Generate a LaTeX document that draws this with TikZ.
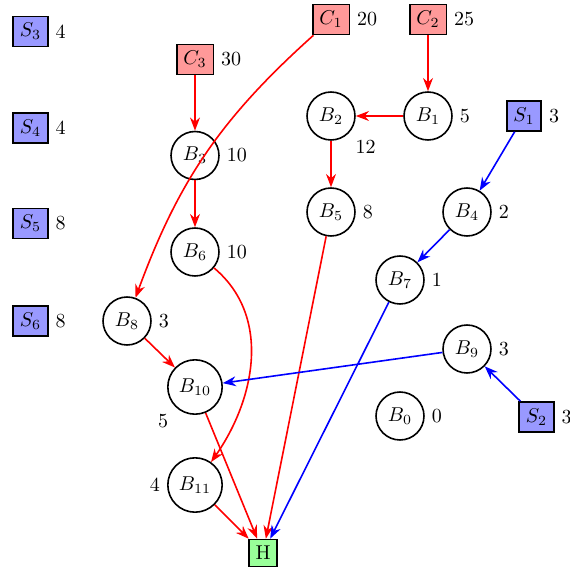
\documentclass[tikz,border=0pt]{standalone}
\usetikzlibrary{arrows.meta}
\tikzset{
  bnode/.style={circle, draw, thick},
  snode/.style={rectangle, draw, thick, fill=blue!40},
  cnode/.style={rectangle, draw, thick, fill=red!40},
  hnode/.style={rectangle, draw, thick, fill=green!40},
  redarr/.style={draw=red, thick, -{Stealth}},
  bluearr/.style={draw=blue, thick, -{Stealth}}
}
\begin{document}
\begin{tikzpicture}[x=0.5pt,y=-0.5pt]
\useasboundingbox (0,0) rectangle (569,571);
% S nodes
\node[snode, label=right:4] (S3) at (30.5,31.5) {$S_3$};
\node[snode, label=right:4] (S4) at (30.5,128) {$S_4$};
\node[snode, label=right:8] (S5) at (30.5,223.5) {$S_5$};
\node[snode, label=right:8] (S6) at (30.5,321) {$S_6$};
\node[snode, label=right:3] (S1) at (524,116) {$S_1$};
\node[snode, label=right:3] (S2) at (536.5,417) {$S_2$};
% C nodes
\node[cnode, label=right:30] (C3) at (195,59.5) {$C_3$};
\node[cnode, label=right:20] (C1) at (331,19.5) {$C_1$};
\node[cnode, label=right:25] (C2) at (428,19.5) {$C_2$};
% B nodes
\node[bnode, label=right:10] (B3) at (195,155.5) {$B_3$};
\node[bnode, label=right:10] (B6) at (195,252) {$B_6$};
\node[bnode, label=right:3] (B8) at (127,321) {$B_8$};
\node[bnode, label=below left:5] (B10) at (195,387) {$B_{10}$};
\node[bnode, label=left:4] (B11) at (195,485) {$B_{11}$};
\node[bnode, label=below right:12] (B2) at (331,116) {$B_2$};
\node[bnode, label=right:5] (B1) at (428,116) {$B_1$};
\node[bnode, label=right:8] (B5) at (331,212) {$B_5$};
\node[bnode, label=right:2] (B4) at (467,212) {$B_4$};
\node[bnode, label=right:1] (B7) at (400,280) {$B_7$};
\node[bnode, label=right:3] (B9) at (467,349) {$B_9$};
\node[bnode, label=right:0] (B0) at (400,416) {$B_0$};
% H
\node[hnode] (H) at (263,553) {H};
% edges
\draw[redarr] (C3) -- (B3);
\draw[redarr] (B3) -- (B6);
\draw[redarr] (C1) to[bend right=14] (B8);
\draw[redarr] (C2) -- (B1);
\draw[redarr] (B1) -- (B2);
\draw[redarr] (B2) -- (B5);
\draw[redarr] (B5) -- (H);
\draw[redarr] (B6) to[out=-40,in=55] (B11);
\draw[redarr] (B8) -- (B10);
\draw[redarr] (B10) -- (H);
\draw[redarr] (B11) -- (H);
\draw[bluearr] (S1) -- (B4);
\draw[bluearr] (B4) -- (B7);
\draw[bluearr] (B7) -- (H);
\draw[bluearr] (B9) -- (B10);
\draw[bluearr] (S2) -- (B9);
\end{tikzpicture}
\end{document}
